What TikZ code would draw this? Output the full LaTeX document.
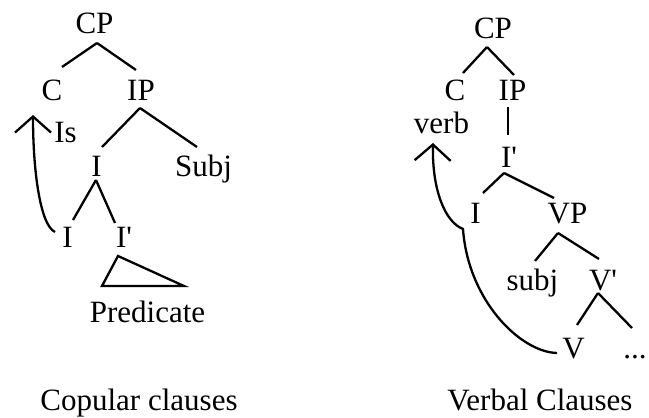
\documentclass[tikz,border=0pt]{standalone}
\usepackage{fontspec}
\setmainfont{Liberation Serif}
\usetikzlibrary{arrows.meta, calc}

\begin{document}
\begin{tikzpicture}[x=1pt, y=-1pt,
    every node/.style={font=\fontsize{31}{37}\selectfont, inner sep=0pt, anchor=base},
    branch/.style={line width=2.3pt},
    movement/.style={line width=2.3pt, -{Straight Barb[length=16pt, width=36pt]}}]
  \useasboundingbox (0,0) rectangle (649,418);
  % copular clauses
  \node (cpL) at (94.5,33) {CP};
  \node (cL) at (52,100) {C};
  \node (ipL) at (141,100) {IP};
  \node (isL) at (65.5,142) {Is};
  \node (iL) at (96.5,176) {I};
  \node (subjL) at (203.5,176) {Subj};
  \node (ilowL) at (67.5,247) {I};
  \node (ibarL) at (124,247) {I\textquotesingle};
  \node (predL) at (147.5,322) {Predicate};
  \node (capL) at (139,410) {Copular clauses};
  \draw[branch] ($(cpL.base)+(2.5,10)$) -- ($(cL.base)+(10,-33)$);
  \draw[branch] ($(cpL.base)+(2.5,10)$) -- ($(ipL.base)+(-5,-30)$);
  \draw[branch] ($(ipL.base)+(-1,8)$) -- ($(iL.base)+(5.5,-29)$);
  \draw[branch] ($(ipL.base)+(-1,8)$) -- ($(subjL.base)+(-6.5,-29)$);
  \draw[branch] ($(iL.base)+(-0.5,4)$) -- ($(ilowL.base)+(5.5,-27)$);
  \draw[branch] ($(iL.base)+(-0.5,4)$) -- ($(ibarL.base)+(-9,-24)$);
  \draw[branch] ($(ibarL.base)+(-6,9)$) -- ($(predL.base)+(-45.5,-36)$)
    -- ($(predL.base)+(36.5,-36)$) -- cycle;
  \draw[movement] ($(ilowL.base)+(-12.5,-15)$) .. controls +(-15,-7) and +(0,55) .. ($(cL.base)+(-19,15)$);
  % verbal clauses
  \node (cpR) at (493,38) {CP};
  \node (cR) at (455,100) {C};
  \node (ipR) at (512.5,100) {IP};
  \node (verbR) at (441.5,133) {verb};
  \node (ibarR) at (509,167) {I\textquotesingle};
  \node (iR) at (475.5,223) {I};
  \node (vpR) at (567.5,223) {VP};
  \node (subjR) at (532.5,290) {subj};
  \node (vbarR) at (603,290) {V\textquotesingle};
  \node (vR) at (573.5,358) {V};
  \node (dotsR) at (635,358) {...};
  \node (capR) at (540,410) {Verbal Clauses};
  \draw[branch] ($(cpR.base)+(-6,9)$) -- ($(cR.base)+(8,-27)$);
  \draw[branch] ($(cpR.base)+(-6,9)$) -- ($(ipR.base)+(1.5,-25)$);
  \draw[branch] ($(ipR.base)+(-4.5,7)$) -- ($(ibarR.base)+(-1,-32)$);
  \draw[branch] ($(ibarR.base)+(-5,6)$) -- ($(iR.base)+(7.5,-30)$);
  \draw[branch] ($(ibarR.base)+(-5,6)$) -- ($(vpR.base)+(-13.5,-25)$);
  \draw[branch] ($(vpR.base)+(-9.5,10)$) -- ($(subjR.base)+(2.5,-29)$);
  \draw[branch] ($(vpR.base)+(-9.5,10)$) -- ($(vbarR.base)+(-4,-31)$);
  \draw[branch] ($(vbarR.base)+(-5,3)$) -- ($(vR.base)+(3.5,-33)$);
  \draw[branch] ($(vbarR.base)+(-5,3)$) -- ($(dotsR.base)+(-3,-30)$);
  \draw[movement] ($(vR.base)+(-16.5,-5)$) .. controls +(-37,-1) and +(5,71) .. ($(iR.base)+(-12.5,6)$)
    .. controls +(-18,-7) and +(-1,47) .. ($(verbR.base)+(-8.5,10)$);
\end{tikzpicture}
\end{document}
